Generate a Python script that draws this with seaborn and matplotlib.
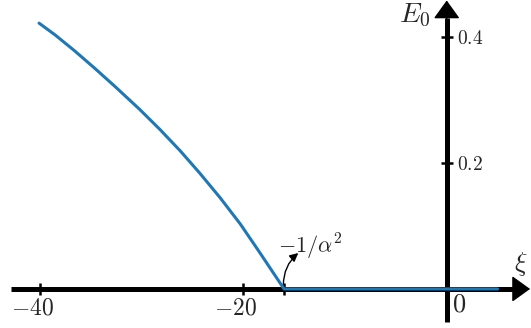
import numpy as np
import matplotlib
matplotlib.use("Agg")
import matplotlib.pyplot as plt
import matplotlib.transforms as mtransforms
import seaborn as sns
import pandas as pd

# ground state energy E0 against xi
xi = [-40.1, -38.5, -36.6, -34.6, -32.6, -30.2, -28.2, -26.2, -24.3,
      -22.3, -20.3, -18.4, -16.0, 5.0]
E0 = [0.422, 0.403, 0.378, 0.350, 0.321, 0.285, 0.253, 0.219, 0.184,
      0.145, 0.103, 0.058, 0.0, 0.0]

xtick_vals = [-40, -20, -16]
xtick_labels = [r"$-40$", r"$-20$", ""]
ytick_vals = [0.2, 0.4]
ytick_labels = [r"$0.2$", r"$0.4$"]
xi_c = -16.0

df = pd.DataFrame({"xi": xi, "E0": E0})

sns.set_style("white")
plt.rcParams["mathtext.fontset"] = "cm"
plt.rcParams["font.family"] = ["DejaVu Sans"]

fig = plt.figure(figsize=(5.31, 3.28), dpi=100)
ax = fig.add_axes([0, 0, 1, 1])
ax.patch.set_alpha(0)

sns.lineplot(data=df, x="xi", y="E0", color="#1f77b4", lw=2.2, ax=ax, zorder=5)

ax.set_xlim(-43.94, 8.29)
ax.set_ylim(-0.062, 0.4587)

# axes through the origin
ax.spines["top"].set_visible(False)
ax.spines["left"].set_visible(False)
ax.spines["bottom"].set_position(("data", 0))
ax.spines["right"].set_position(("data", 0))
ax.spines["bottom"].set_bounds(-42.9, 7.0)
ax.spines["right"].set_bounds(-0.052, 0.43)
for s in ["bottom", "right"]:
    ax.spines[s].set_linewidth(3.6)
    ax.spines[s].set_color("black")
    ax.spines[s].set_capstyle("butt")

ax.xaxis.set_ticks_position("bottom")
ax.yaxis.set_ticks_position("right")
ax.set_xticks(xtick_vals)
ax.set_xticklabels(xtick_labels)
ax.set_yticks(ytick_vals)
ax.set_yticklabels(ytick_labels)
ax.tick_params(axis="both", direction="inout", length=9, width=1.8, color="black")
ax.tick_params(axis="x", labelsize=17, pad=0)
ax.tick_params(axis="y", labelsize=14, pad=3)
ax.set_xlabel("")
ax.set_ylabel("")

# shift x labels so the digits sit under the tick
off = mtransforms.ScaledTranslation(-7.5 / 100, 0, fig.dpi_scale_trans)
for lbl in ax.get_xticklabels():
    lbl.set_transform(lbl.get_transform() + off)

# arrow heads
head = "-|>,head_length=1.0,head_width=0.72"
ax.annotate("", xy=(8.2, 0), xytext=(6.5, 0),
            arrowprops=dict(arrowstyle=head, color="black", lw=1,
                            shrinkA=0, shrinkB=0, mutation_scale=11.5))
ax.annotate("", xy=(0, 0.458), xytext=(0, 0.42),
            arrowprops=dict(arrowstyle=head, color="black", lw=1,
                            shrinkA=0, shrinkB=0, mutation_scale=11.5))

ax.text(7.3, 0.04, r"$\xi$", fontsize=19, ha="center", va="center")
ax.text(-1.6, 0.435, r"$E_0$", fontsize=20, ha="right", va="center")
ax.text(0.5, -0.025, r"$0$", fontsize=19, ha="left", va="center")

# critical point -1/alpha^2
ax.annotate("", xy=(-14.6, 0.057), xytext=(xi_c - 0.07, 0.006),
            arrowprops=dict(arrowstyle="-|>,head_length=0.5,head_width=0.25",
                            color="black", lw=1.0, shrinkA=0, shrinkB=0,
                            mutation_scale=10,
                            connectionstyle="arc3,rad=-0.23"))
ax.text(-13.4, 0.057, r"$-1/\alpha^2$", fontsize=16, ha="center", va="baseline")

fig.savefig("out.png", dpi=100)
